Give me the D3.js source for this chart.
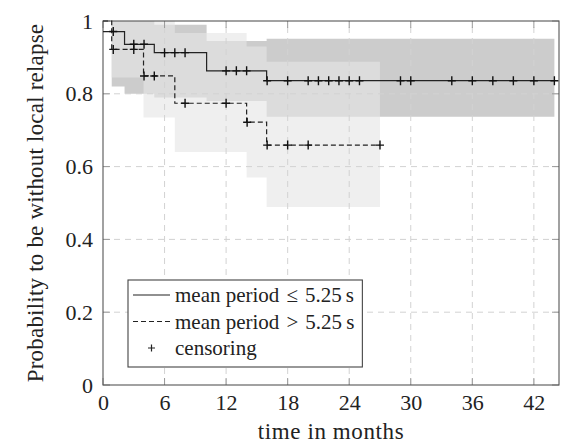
<!DOCTYPE html>
<html>
<head>
<meta charset="utf-8">
<script src="https://cdn.jsdelivr.net/npm/d3@7"></script>
<style>
  body { margin: 0; background: #fff; }
  svg { display: block; font-family: "Liberation Serif", serif; }
</style>
</head>
<body>
<svg id="chart" width="568" height="445"></svg>
<script>
// group 1: mean period <= 5.25 s (solid)
const solidTimes = [0, 0.85, 2.1, 5.0, 10.1, 15.95];
const solidSurv = [0.971, 0.971, 0.936, 0.913, 0.863, 0.836];
const solidUpper = [0.971, 1.0, 1.0, 0.99, 0.945, 0.951];
const solidLower = [0.971, 0.82, 0.80, 0.79, 0.78, 0.737];
const solidEnd = 44;
const solidCensor = [1, 3, 4, 6, 7, 8, 12, 13, 14, 16, 18, 20, 21, 22, 23, 24, 25, 29, 30, 34, 36, 38, 40, 42, 44];

// group 2: mean period > 5.25 s (dashed)
const dashedTimes = [0, 0.85, 3.95, 7.0, 14.0, 15.95];
const dashedSurv = [1.0, 0.922, 0.849, 0.774, 0.722, 0.659];
const dashedUpper = [1.0, 1.0, 1.0, 0.967, 0.93, 0.888];
const dashedLower = [1.0, 0.845, 0.735, 0.64, 0.57, 0.489];
const dashedEnd = 27;
const dashedCensor = [1, 3, 4, 5, 8, 12, 14.05, 16, 18, 20, 27];

const xTicks = [0, 6, 12, 18, 24, 30, 36, 42];
const yTicks = [0, 0.2, 0.4, 0.6, 0.8, 1];
const legendLabels = ["mean period\u2004\u2264\u20045.25\u2009s", "mean period\u2004>\u20045.25\u2009s", "censoring"];

const margin = { top: 21, right: 9, bottom: 60, left: 103 };
const width = 568, height = 445;
const tickFont = 22;
const labelFont = 23;
const legendFont = 21;
const xMax = 44.45;

const svg = d3.select("#chart");

const x = d3.scaleLinear().domain([0, xMax]).range([margin.left, width - margin.right]);
const y = d3.scaleLinear().domain([0, 1]).range([height - margin.bottom, margin.top]);

// turn the step data into rows with an end point
function steps(times, surv, upper, lower, end) {
  const rows = times.map((t, i) => ({ t, s: surv[i], hi: upper[i], lo: lower[i] }));
  const last = rows[rows.length - 1];
  rows.push({ t: end, s: last.s, hi: last.hi, lo: last.lo });
  return rows;
}

function stepValue(times, surv, t) {
  let v = surv[0];
  times.forEach((tt, i) => { if (tt <= t) v = surv[i]; });
  return v;
}

const solid = steps(solidTimes, solidSurv, solidUpper, solidLower, solidEnd);
const dashed = steps(dashedTimes, dashedSurv, dashedUpper, dashedLower, dashedEnd);

const band = d3.area()
  .x((d) => x(d.t))
  .y0((d) => y(d.lo))
  .y1((d) => y(d.hi))
  .curve(d3.curveStepAfter);

const line = d3.line()
  .x((d) => x(d.t))
  .y((d) => y(d.s))
  .curve(d3.curveStepAfter);

// confidence bands
svg.append("path").attr("d", band(solid)).attr("fill", "#cccccc");
svg.append("path").attr("d", band(dashed)).attr("fill", "#e5e5e5").attr("fill-opacity", 0.62);

// grid
const grid = svg.append("g")
  .attr("stroke", "#d2d2d2")
  .attr("stroke-width", 1)
  .attr("stroke-dasharray", "6,5");

grid.selectAll("line.gx")
  .data(xTicks.slice(1))
  .enter()
  .append("line")
  .attr("x1", (d) => x(d))
  .attr("x2", (d) => x(d))
  .attr("y1", y(0))
  .attr("y2", y(1));

grid.selectAll("line.gy")
  .data(yTicks.slice(1, -1))
  .enter()
  .append("line")
  .attr("x1", x(0))
  .attr("x2", x(xMax))
  .attr("y1", (d) => y(d))
  .attr("y2", (d) => y(d));

// inward ticks on all four sides
const ticks = svg.append("g").attr("stroke", "#9a9a9a").attr("stroke-width", 1);
xTicks.forEach((t) => {
  ticks.append("line").attr("x1", x(t)).attr("x2", x(t)).attr("y1", y(0)).attr("y2", y(0) - 7);
  ticks.append("line").attr("x1", x(t)).attr("x2", x(t)).attr("y1", y(1)).attr("y2", y(1) + 7);
});
yTicks.forEach((v) => {
  ticks.append("line").attr("x1", x(0)).attr("x2", x(0) + 7).attr("y1", y(v)).attr("y2", y(v));
  ticks.append("line").attr("x1", x(xMax)).attr("x2", x(xMax) - 7).attr("y1", y(v)).attr("y2", y(v));
});

// frame
svg.append("rect")
  .attr("x", x(0))
  .attr("y", y(1))
  .attr("width", x(xMax) - x(0))
  .attr("height", y(0) - y(1))
  .attr("fill", "none")
  .attr("stroke", "#555")
  .attr("stroke-width", 1.1);

// axis tick labels
const xAxis = d3.axisBottom(x).tickValues(xTicks).tickSize(0).tickPadding(9).tickFormat(d3.format("d"));
svg.append("g")
  .attr("transform", `translate(0, ${y(0)})`)
  .call(xAxis)
  .call((g) => g.select(".domain").remove())
  .selectAll("text")
  .attr("font-family", "Liberation Serif")
  .attr("font-size", tickFont)
  .attr("fill", "#222");

const yAxis = d3.axisLeft(y).tickValues(yTicks).tickSize(0).tickPadding(10).tickFormat((d) => String(d));
svg.append("g")
  .attr("transform", `translate(${x(0)}, 0)`)
  .call(yAxis)
  .call((g) => g.select(".domain").remove())
  .selectAll("text")
  .attr("font-family", "Liberation Serif")
  .attr("font-size", tickFont)
  .attr("fill", "#222");

// curves
svg.append("path")
  .attr("d", line(solid))
  .attr("fill", "none")
  .attr("stroke", "#222")
  .attr("stroke-width", 1.2);

svg.append("path")
  .attr("d", line(dashed))
  .attr("fill", "none")
  .attr("stroke", "#222")
  .attr("stroke-width", 1.2)
  .attr("stroke-dasharray", "5,3");

// censoring crosses
function plus(g, px, py) {
  g.append("path")
    .attr("d", `M${px - 4},${py}H${px + 4}M${px},${py - 4.5}V${py + 4.5}`)
    .attr("stroke", "#111")
    .attr("stroke-width", 1.4)
    .attr("fill", "none");
}
const marks = svg.append("g");
solidCensor.forEach((t) => plus(marks, x(t), y(stepValue(solidTimes, solidSurv, t))));
dashedCensor.forEach((t) => plus(marks, x(t), y(stepValue(dashedTimes, dashedSurv, t))));

// axis titles
svg.append("text")
  .attr("x", (x(0) + x(xMax)) / 2)
  .attr("y", 439)
  .attr("text-anchor", "middle")
  .attr("font-size", labelFont)
  .attr("letter-spacing", 0.6)
  .attr("fill", "#222")
  .text("time in months");

svg.append("text")
  .attr("transform", `translate(43, ${(y(0) + y(1)) / 2}) rotate(-90)`)
  .attr("text-anchor", "middle")
  .attr("font-size", labelFont)
  .attr("letter-spacing", 0.2)
  .attr("fill", "#222")
  .text("Probability to be without local relapse");

// legend
const legend = svg.append("g");
const lgX = 128, lgY = 280, rowH = 26.5;
const box = legend.append("rect")
  .attr("x", lgX)
  .attr("y", lgY)
  .attr("height", 87)
  .attr("fill", "#fff")
  .attr("stroke", "#444")
  .attr("stroke-width", 1.1);

let maxW = 0;
legendLabels.forEach((label, i) => {
  const cy = lgY + 15 + i * rowH;
  if (i < 2) {
    legend.append("line")
      .attr("x1", lgX + 5).attr("x2", lgX + 42)
      .attr("y1", cy).attr("y2", cy)
      .attr("stroke", "#222")
      .attr("stroke-width", 1.2)
      .attr("stroke-dasharray", i === 1 ? "5,3" : null);
  } else {
    legend.append("path")
      .attr("d", `M${lgX + 20},${cy}H${lgX + 27}M${lgX + 23.5},${cy - 3.5}V${cy + 3.5}`)
      .attr("stroke", "#222")
      .attr("stroke-width", 1.2);
  }
  const t = legend.append("text")
    .attr("x", lgX + 47)
    .attr("y", cy + 7)
    .attr("font-size", legendFont)
    .attr("fill", "#222")
    .text(label);
  maxW = Math.max(maxW, t.node().getComputedTextLength());
});
box.attr("width", 47 + maxW + 8);
</script>
</body>
</html>
